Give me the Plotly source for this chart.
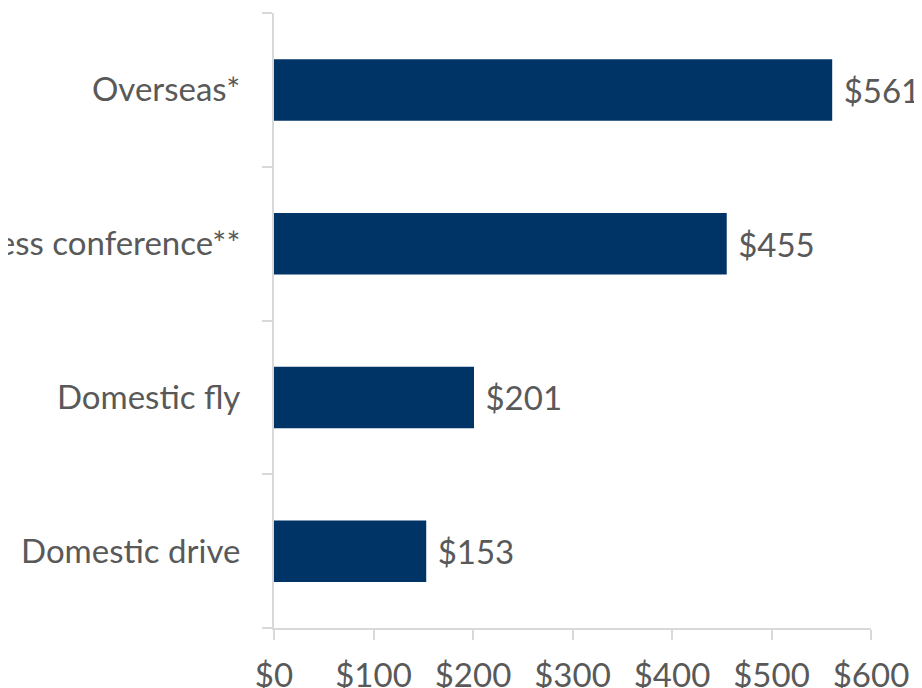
import plotly.graph_objects as go

categories = ["Domestic drive", "Domestic fly", "Business conference**", "Overseas*"]
values = [153, 201, 455, 561]
x_tickvals = [0, 100, 200, 300, 400, 500, 600]
x_ticktext = ["$0", "$100", "$200", "$300", "$400", "$500", "$600"]

FONT = "Lato, 'Open Sans', sans-serif"
GRAY = "#595959"
LINE = "#d9d9d9"
FS = 33

fig = go.Figure(
    go.Bar(
        x=values,
        y=categories,
        orientation="h",
        marker=dict(color="#003366", line=dict(width=0)),
        width=0.4,
        text=["\u00a0$" + str(v) for v in values],
        textposition="outside",
        textfont=dict(family=FONT, size=FS, color=GRAY),
        cliponaxis=False,
    )
)

# page body has an 8px margin; compensate so the plot area sits where the reference has it
fig.update_layout(
    width=922,
    height=688,
    margin=dict(l=266, r=59, t=5, b=68),
    paper_bgcolor="white",
    plot_bgcolor="white",
    showlegend=False,
    font=dict(family=FONT, size=FS, color=GRAY),
)

fig.update_xaxes(
    range=[0, 600],
    tickvals=x_tickvals,
    ticktext=x_ticktext,
    showgrid=False,
    zeroline=False,
    showline=True,
    linecolor=LINE,
    linewidth=2,
    ticks="outside",
    ticklen=10,
    tickwidth=2,
    tickcolor=LINE,
    ticklabelstandoff=7,
    tickfont=dict(family=FONT, size=FS, color=GRAY),
    automargin=False,
)

fig.update_yaxes(
    categoryorder="array",
    categoryarray=categories,
    showgrid=False,
    zeroline=False,
    showline=True,
    linecolor=LINE,
    linewidth=2,
    ticks="outside",
    tickson="boundaries",
    ticklen=10,
    tickwidth=2,
    tickcolor=LINE,
    ticklabelstandoff=25,
    tickfont=dict(family=FONT, size=FS, color=GRAY),
    automargin=False,
)

fig.write_html("out.html")
